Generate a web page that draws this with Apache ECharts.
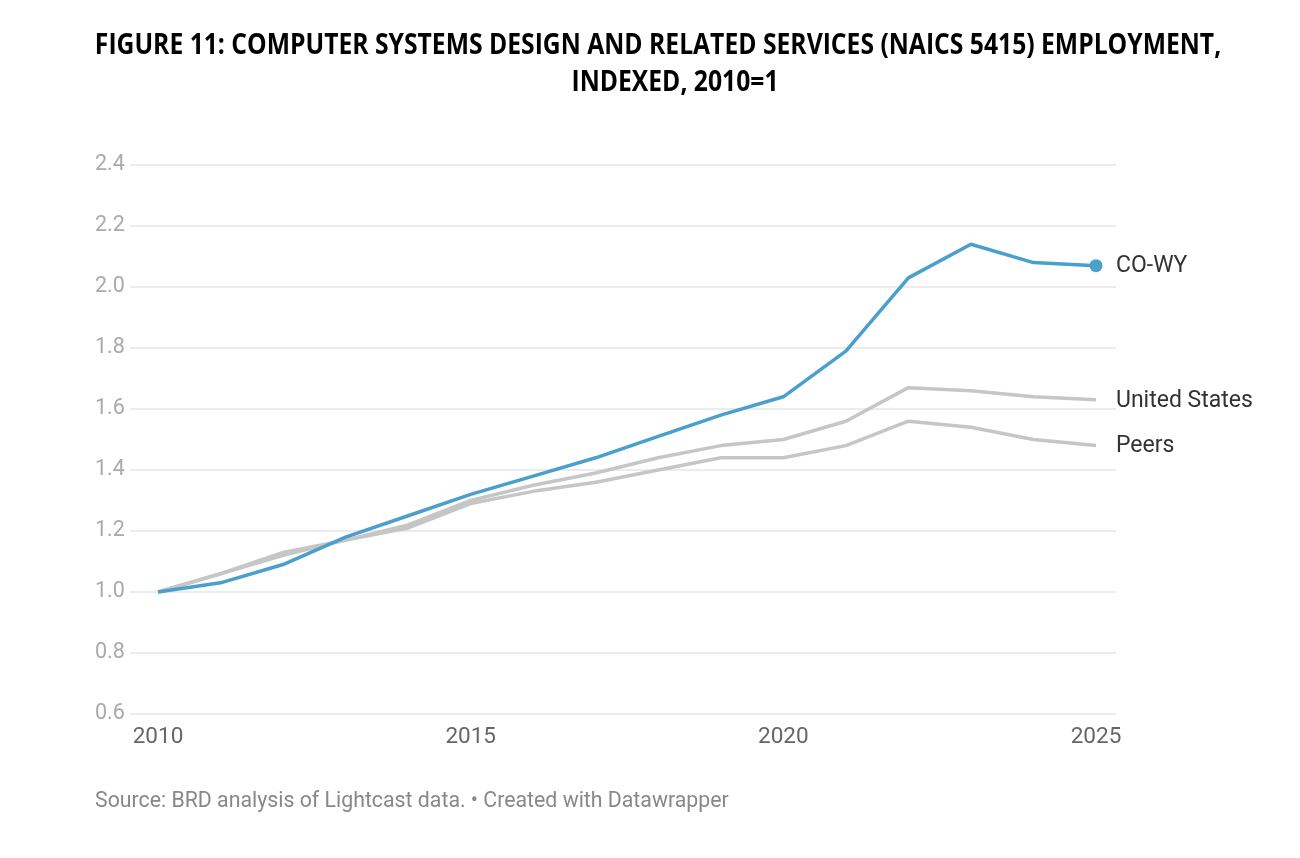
<!DOCTYPE html>
<html>
<head>
<meta charset="utf-8">
<script src="https://cdn.jsdelivr.net/npm/echarts@6/dist/echarts.min.js"></script>
<style>
  html, body { margin: 0; padding: 0; background: #fff; }
  #chart { width: 1300px; height: 858px; }
</style>
</head>
<body>
<div id="chart"></div>
<script>
// 数据
const years = [2010, 2011, 2012, 2013, 2014, 2015, 2016, 2017, 2018, 2019, 2020, 2021, 2022, 2023, 2024, 2025]
const coWy = [1.00, 1.03, 1.09, 1.18, 1.25, 1.32, 1.38, 1.44, 1.51, 1.58, 1.64, 1.79, 2.03, 2.14, 2.08, 2.07]
const unitedStates = [1.00, 1.06, 1.13, 1.17, 1.22, 1.30, 1.35, 1.39, 1.44, 1.48, 1.50, 1.56, 1.67, 1.66, 1.64, 1.63]
const peers = [1.00, 1.06, 1.12, 1.17, 1.21, 1.29, 1.33, 1.36, 1.40, 1.44, 1.44, 1.48, 1.56, 1.54, 1.50, 1.48]
const xTicks = [2010, 2015, 2020, 2025]

const pairs = arr => arr.map((v, i) => [years[i], v])
const lastIdx = years.length - 1

let chart = echarts.init(document.getElementById('chart'))

const endLabel = {
    show: true,
    formatter: '{a}',
    color: '#333',
    fontFamily: 'Roboto',
    fontSize: 23,
    distance: 20,
    offset: [0, 1]
}

const titleStyle = {
    fill: '#000',
    fontFamily: 'Open Sans',
    fontWeight: 'bold',
    fontSize: 24.7,
    textAlign: 'center',
    textVerticalAlign: 'middle'
}

const option = {
    animation: false,
    graphic: [
        {
            type: 'text',
            x: 658,
            y: 46,
            scaleY: 1.18,
            style: Object.assign({text: 'FIGURE 11: COMPUTER SYSTEMS DESIGN AND RELATED SERVICES (NAICS 5415) EMPLOYMENT,'}, titleStyle)
        },
        {
            type: 'text',
            x: 675,
            y: 83,
            scaleY: 1.18,
            style: Object.assign({text: 'INDEXED, 2010=1'}, titleStyle)
        },
        {
            type: 'text',
            left: 95,
            top: 791,
            style: {
                text: 'Source: BRD analysis of Lightcast data. • Created with Datawrapper',
                fill: '#888',
                fontFamily: 'Roboto',
                fontSize: 21.3
            }
        }
    ],
    grid: [
        // 绘图区
        {left: 158, right: 204, top: 165, bottom: 144},
        // 网格线区（更宽）
        {left: 130, right: 184, top: 165, bottom: 144}
    ],
    xAxis: [
        {
            type: 'value',
            gridIndex: 0,
            min: 2010,
            max: 2025,
            interval: 5,
            splitLine: {show: false},
            axisLine: {show: false},
            axisTick: {show: false},
            axisLabel: {
                color: '#666',
                fontFamily: 'Roboto',
                fontSize: 22.5,
                margin: 12,
                formatter: v => xTicks.includes(v) ? String(v) : ''
            }
        },
        {
            type: 'value',
            gridIndex: 1,
            show: false,
            min: 0,
            max: 1
        }
    ],
    yAxis: [
        {
            type: 'value',
            gridIndex: 0,
            min: 0.6,
            max: 2.4,
            interval: 0.2,
            show: false
        },
        {
            type: 'value',
            gridIndex: 1,
            min: 0.6,
            max: 2.4,
            interval: 0.2,
            axisLine: {show: false},
            axisTick: {show: false},
            splitLine: {lineStyle: {color: '#e6e6e6', width: 1.5}},
            axisLabel: {
                color: '#aaa',
                fontFamily: 'Roboto',
                fontSize: 21.5,
                align: 'left',
                margin: 35,
                formatter: v => v.toFixed(1)
            }
        }
    ],
    series: [
        {
            name: 'Peers',
            type: 'line',
            data: pairs(peers),
            symbol: 'none',
            lineStyle: {color: '#c6c6c6', width: 3.5},
            itemStyle: {color: '#c6c6c6'},
            endLabel: endLabel,
            z: 2
        },
        {
            name: 'United States',
            type: 'line',
            data: pairs(unitedStates),
            symbol: 'none',
            lineStyle: {color: '#c6c6c6', width: 3.5},
            itemStyle: {color: '#c6c6c6'},
            endLabel: endLabel,
            z: 2
        },
        {
            name: 'CO-WY',
            type: 'line',
            data: pairs(coWy),
            symbol: 'circle',
            showSymbol: true,
            symbolSize: (v, p) => p.dataIndex === lastIdx ? 13 : 0,
            lineStyle: {color: '#4a9fcc', width: 3.5},
            itemStyle: {color: '#4a9fcc'},
            endLabel: endLabel,
            z: 3
        }
    ]
}
chart.setOption(option)
window.addEventListener('resize', () => {
    chart.resize()
})
</script>
</body>
</html>
